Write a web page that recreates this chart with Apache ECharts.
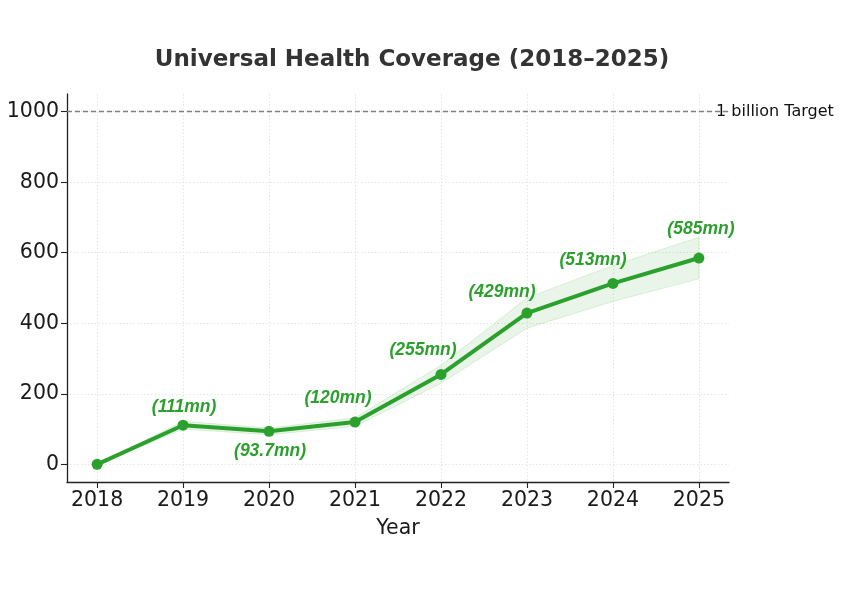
<!DOCTYPE html>
<html>
<head>
<meta charset="utf-8">
<script src="https://cdn.jsdelivr.net/npm/echarts@6/dist/echarts.min.js"></script>
<style>html,body{margin:0;padding:0;background:#fff}#c{width:846px;height:603px}</style>
</head>
<body>
<div id="c"></div>
<script>
var years = [2018, 2019, 2020, 2021, 2022, 2023, 2024, 2025];
var coverage = [0, 111, 93.7, 120, 255, 429, 513, 585];
var bandLower = [0, 100, 84, 108, 230, 386, 462, 526];
var bandUpper = [0, 122, 103, 132, 281, 472, 564, 644];
var pointLabels = ['', '(111mn)', '(93.7mn)', '(120mn)', '(255mn)', '(429mn)', '(513mn)', '(585mn)'];
var yTicks = [0, 200, 400, 600, 800, 1000];
var targetValue = 1000;
var targetLabel = '1 billion Target';
var titleText = 'Universal Health Coverage (2018\u20132025)';
var xName = 'Year';

// label offsets (pixels), style only
var labelOffsets = [[0,0],[1,-18],[1,20],[-17,-24],[-18,-24],[-25,-21],[-20,-23],[2,-29]];

var green = '#2ca02c';
var chart = echarts.init(document.getElementById('c'), null, {renderer:'canvas'});

var lineData = years.map(function(y, i){
  return {
    value: [y, coverage[i]],
    label: {
      show: pointLabels[i] !== '',
      formatter: pointLabels[i],
      position: 'inside',
      offset: labelOffsets[i]
    }
  };
});

var bandData = years.map(function(y, i){ return [y, bandLower[i], bandUpper[i]]; });

var option = {
  animation: false,
  backgroundColor: '#fff',
  title: {
    text: titleText,
    left: 407, top: 44, textAlign: 'center',
    textStyle: {fontFamily: 'DejaVu Sans', fontWeight: 'bold', fontSize: 23, color: '#333'}
  },
  grid: {left: 67, right: 117, top: 94, bottom: 121, containLabel: false},
  xAxis: {
    type: 'value', min: 2017.65, max: 2025.35,
    name: xName, nameLocation: 'middle', nameGap: 36,
    nameTextStyle: {fontFamily: 'DejaVu Sans', fontSize: 20.5, color: '#1a1a1a'},
    axisLine: {show: true, onZero: false, lineStyle: {color: '#222', width: 1.3}},
    axisTick: {show: true, length: 6, lineStyle: {color: '#222', width: 1.1}, customValues: years},
    axisLabel: {customValues: years, fontFamily: 'DejaVu Sans', fontSize: 20.5, color: '#1a1a1a', margin: 8, formatter: function(v){return String(v);}},
    splitLine: {show: true, lineStyle: {color: '#dedede', type: [1.5, 2], width: 0.8}}
  },
  yAxis: {
    type: 'value', min: -50, max: 1050,
    axisLine: {show: true, onZero: false, lineStyle: {color: '#222', width: 1.3}},
    axisTick: {show: true, length: 6, lineStyle: {color: '#222', width: 1.1}, customValues: yTicks},
    axisLabel: {customValues: yTicks, fontFamily: 'DejaVu Sans', fontSize: 20.5, color: '#1a1a1a', margin: 8, formatter: function(v){return String(v);}},
    splitLine: {show: true, lineStyle: {color: '#dedede', type: [1.5, 2], width: 0.8}}
  },
  series: [
    {
      type: 'custom',
      data: bandData,
      encode: {x: 0, y: [1, 2]},
      silent: true,
      z: 1,
      renderItem: function(params, api){
        if (params.dataIndex !== 0) return null;
        var up = [], low = [];
        for (var i = 0; i < bandData.length; i++) {
          up.push(api.coord([bandData[i][0], bandData[i][2]]));
          low.push(api.coord([bandData[i][0], bandData[i][1]]));
        }
        var pts = up.concat(low.reverse());
        return {
          type: 'polygon',
          shape: {points: pts},
          style: {fill: 'rgba(44,160,44,0.11)', stroke: 'rgba(44,160,44,0.14)', lineWidth: 1}
        };
      }
    },
    {
      type: 'line',
      data: lineData,
      z: 3,
      symbol: 'circle', symbolSize: 11,
      itemStyle: {color: green},
      lineStyle: {color: green, width: 4},
      label: {fontFamily: 'Liberation Sans', fontStyle: 'italic', fontWeight: 'bold', fontSize: 17.5, color: green},
      markLine: {
        silent: true, symbol: 'none',
        lineStyle: {color: '#808080', type: [5, 3], width: 1.3},
        label: {show: false},
        data: [{yAxis: targetValue}]
      }
    },
    {
      type: 'custom',
      data: [[2025.2, targetValue]],
      z: 4,
      silent: true,
      renderItem: function(params, api){
        var p = api.coord([api.value(0), api.value(1)]);
        return {
          type: 'text',
          x: p[0], y: p[1],
          style: {text: targetLabel, fill: '#111', font: '16px "DejaVu Sans"', textAlign: 'left', textVerticalAlign: 'middle'}
        };
      }
    }
  ]
};
chart.setOption(option);
</script>
</body>
</html>
